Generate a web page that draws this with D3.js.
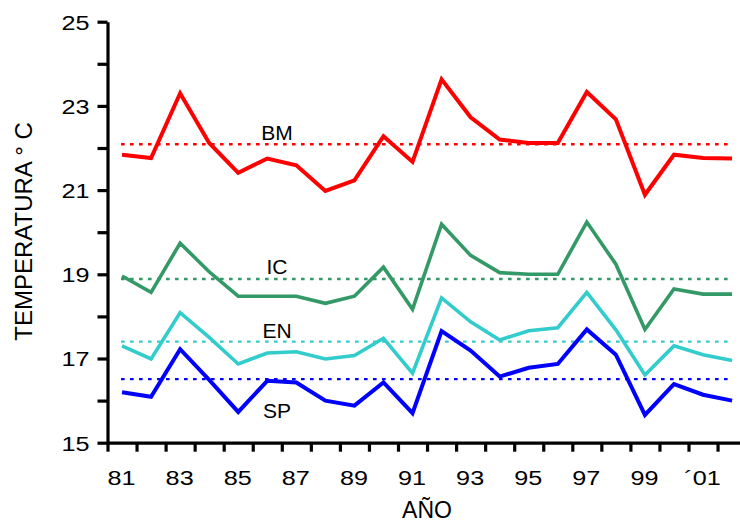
<!DOCTYPE html>
<html>
<head>
<meta charset="utf-8">
<script src="https://cdn.jsdelivr.net/npm/d3@7"></script>
<style>
  html, body { margin: 0; padding: 0; background: #fff; }
  svg { display: block; font-family: "Liberation Sans", Arial, sans-serif; }
</style>
</head>
<body>
<svg id="chart" width="740" height="523"></svg>
<script>
// Annual mean temperature by station, 1981-2002
const years = ["81","82","83","84","85","86","87","88","89","90","91",
               "92","93","94","95","96","97","98","99","00","01","02"];
const yearTickLabels = ["81","83","85","87","89","91","93","95","97","99","\u00B401"];

const bmValues = [21.84,21.76,23.30,22.12,21.41,21.75,21.59,20.98,21.23,22.28,21.67,
                  23.63,22.73,22.20,22.12,22.12,23.33,22.68,20.89,21.84,21.76,21.75];
const icValues = [18.96,18.57,19.74,19.06,18.48,18.48,18.48,18.31,18.48,19.17,18.17,
                  20.19,19.45,19.04,19.00,19.00,20.24,19.24,17.69,18.65,18.53,18.53];
const enValues = [17.30,16.99,18.09,17.50,16.87,17.13,17.16,16.99,17.07,17.48,16.65,
                  18.44,17.87,17.44,17.66,17.73,18.57,17.68,16.61,17.30,17.09,16.95];
const spValues = [16.20,16.09,17.22,16.49,15.73,16.47,16.43,16.00,15.88,16.43,15.70,
                  17.65,17.19,16.57,16.78,16.87,17.69,17.09,15.66,16.39,16.14,16.00];

const seriesNames = ["BM","IC","EN","SP"];
const seriesMeans = [22.09, 18.89, 17.40, 16.51];
const yTicks = [15,16,17,18,19,20,21,22,23,24,25];

// drawing styles per series
const styles = {
  BM: { color: "#ff0000", width: 4,   labelDy: -4 },
  IC: { color: "#339966", width: 3.6, labelDy: -5 },
  EN: { color: "#33cccc", width: 3.6, labelDy: -3.5 },
  SP: { color: "#0000ff", width: 4,   labelDy: 39 }
};

const series = seriesNames.map((name, k) => ({
  name,
  values: [bmValues, icValues, enValues, spValues][k],
  mean: seriesMeans[k]
}));

const svg = d3.select("#chart");

const plotLeft = 107.5, plotTop = 21.7, plotBottom = 442.7, step = 29.05;
const x = d3.scaleLinear()
  .domain([-0.5, years.length - 0.5])
  .range([plotLeft, plotLeft + step * years.length]);
const y = d3.scaleLinear().domain([15, 25]).range([plotBottom, plotTop]);

// data lines
const line = d3.line().x((d, i) => x(i)).y(d => y(d));

series.forEach(s => {
  const st = styles[s.name];
  svg.append("path")
    .datum(s.values)
    .attr("d", line)
    .attr("fill", "none")
    .attr("stroke", st.color)
    .attr("stroke-width", st.width)
    .attr("stroke-linejoin", "miter")
    .attr("stroke-miterlimit", 3);

  // dotted mean line
  svg.append("line")
    .attr("x1", x(0) - 1).attr("x2", x(years.length - 1))
    .attr("y1", y(s.mean)).attr("y2", y(s.mean))
    .attr("stroke", st.color)
    .attr("stroke-width", 2.4)
    .attr("stroke-dasharray", "3.6,5.4");

  svg.append("text")
    .attr("x", 277)
    .attr("y", y(s.mean) + st.labelDy)
    .attr("text-anchor", "middle")
    .attr("font-size", 21)
    .attr("fill", "#000")
    .text(s.name);
});

// y axis
const yAxis = d3.axisLeft(y)
  .tickValues(yTicks)
  .tickSize(10)
  .tickSizeOuter(0)
  .tickFormat(d => d % 2 === 1 ? d : "");
const gy = svg.append("g").attr("transform", `translate(${plotLeft},0)`).call(yAxis);
gy.select(".domain").attr("stroke", "#000").attr("stroke-width", 3.2);
gy.selectAll(".tick line").attr("stroke", "#000").attr("stroke-width", 3.2);
gy.selectAll(".tick text")
  .attr("x", null).attr("dy", "0.35em")
  .attr("font-size", 21).attr("font-family", "Liberation Sans, Arial, sans-serif")
  .attr("fill", "#000")
  .attr("transform", "translate(-18,0) scale(1.2,1)");

// x axis: ticks on year boundaries
const boundaries = d3.range(-0.5, years.length, 1);
const xAxis = d3.axisBottom(x)
  .tickValues(boundaries)
  .tickSize(9)
  .tickSizeOuter(0)
  .tickFormat("");
const gx = svg.append("g").attr("transform", `translate(0,${plotBottom})`).call(xAxis);
gx.select(".domain").attr("stroke", "#000").attr("stroke-width", 3.2);
gx.selectAll(".tick line").attr("stroke", "#000").attr("stroke-width", 3.2);

// x labels on every second year
const labelIdx = d3.range(0, years.length, 2);
const xLab = d3.axisBottom(x)
  .tickValues(labelIdx)
  .tickSize(0)
  .tickFormat((d, i) => yearTickLabels[i]);
const gxl = svg.append("g").attr("transform", `translate(0,${plotBottom})`).call(xLab);
gxl.select(".domain").remove();
gxl.selectAll(".tick text")
  .attr("y", null).attr("dy", null)
  .attr("font-size", 21).attr("font-family", "Liberation Sans, Arial, sans-serif")
  .attr("fill", "#000")
  .attr("transform", "translate(-1,42.5) scale(1.2,1)");

// axis titles
svg.append("text")
  .attr("x", 427).attr("y", 518.3)
  .attr("text-anchor", "middle")
  .attr("font-size", 23)
  .text("A\u00D1O");

svg.append("text")
  .attr("transform", "translate(31.5,231.5) rotate(-90)")
  .attr("text-anchor", "middle")
  .attr("font-size", 24)
  .text("TEMPERATURA \u00B0 C");
</script>
</body>
</html>
